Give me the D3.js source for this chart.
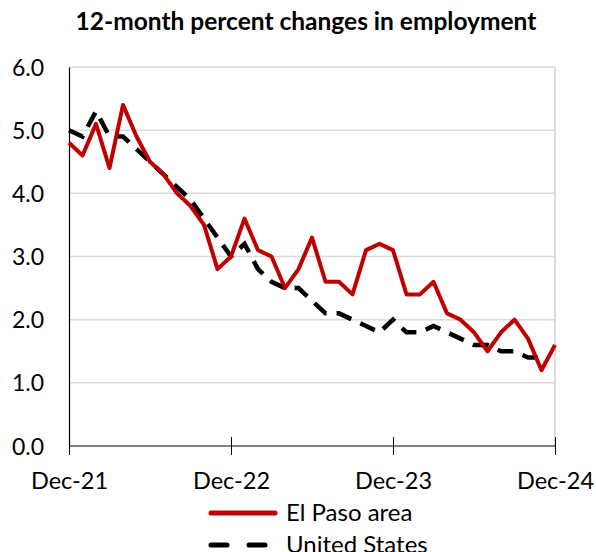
<!DOCTYPE html>
<html>
<head>
<meta charset="utf-8">
<script src="https://cdn.jsdelivr.net/npm/d3@7"></script>
<style>
  body { margin: 0; background: #fff; }
  text { font-family: Lato, "Liberation Sans", sans-serif; fill: #000; }
</style>
</head>
<body>
<svg id="chart" width="596" height="552"></svg>
<script>
// monthly, Dec-21 .. Dec-24
var elPaso = [4.8, 4.6, 5.1, 4.4, 5.4, 4.9, 4.5, 4.3, 4.0, 3.8, 3.5, 2.8,
              3.0, 3.6, 3.1, 3.0, 2.5, 2.8, 3.3, 2.6, 2.6, 2.4, 3.1, 3.2,
              3.1, 2.4, 2.4, 2.6, 2.1, 2.0, 1.8, 1.5, 1.8, 2.0, 1.7, 1.2,
              1.6];
// US series ends Nov-24
var unitedStates = [5.0, 4.9, 5.3, 4.9, 4.9, 4.7, 4.5, 4.3, 4.1, 3.9, 3.6, 3.3,
                    3.0, 3.2, 2.8, 2.6, 2.5, 2.5, 2.3, 2.1, 2.1, 2.0, 1.9, 1.8,
                    2.0, 1.8, 1.8, 1.9, 1.8, 1.7, 1.6, 1.6, 1.5, 1.5, 1.4, 1.4];
var xTickLabels = ["Dec-21", "Dec-22", "Dec-23", "Dec-24"];
var yTicks = [0, 1, 2, 3, 4, 5, 6];

var svg = d3.select("#chart");
var mLeft = 69, mRight = 555, mTop = 67, mBottom = 446;

var x = d3.scaleLinear().domain([0, 36]).range([mLeft, mRight]);
var y = d3.scaleLinear().domain([0, 6]).range([mBottom, mTop]);

// title
svg.append("text")
    .attr("x", 306)
    .attr("y", 30)
    .attr("text-anchor", "middle")
    .attr("font-size", "24.5px")
    .attr("font-weight", "bold")
    .text("12-month percent changes in employment");

// gridlines
svg.append("g")
    .selectAll("line")
    .data(yTicks.filter(function(d) { return d > 0; }))
    .enter()
    .append("line")
    .attr("x1", mLeft)
    .attr("x2", mRight)
    .attr("y1", function(d) { return y(d); })
    .attr("y2", function(d) { return y(d); })
    .attr("stroke", "#d9d9d9")
    .attr("stroke-width", 1.5);

// right border
svg.append("line")
    .attr("x1", mRight).attr("x2", mRight)
    .attr("y1", mTop).attr("y2", mBottom)
    .attr("stroke", "#d0d0d0")
    .attr("stroke-width", 1.5);

// y axis
var yAxis = svg.append("g")
    .attr("transform", "translate(" + mLeft + ",0)")
    .call(d3.axisLeft(y).tickValues(yTicks).tickSize(0).tickPadding(25).tickFormat(d3.format(".1f")));
yAxis.select(".domain").attr("stroke", "#000").attr("stroke-width", 1.2);
yAxis.selectAll("text").attr("font-size", "23px").attr("dy", "0.35em");

// x axis
var xAxis = svg.append("g")
    .attr("transform", "translate(0," + mBottom + ")")
    .call(d3.axisBottom(x).tickValues([0, 12, 24, 36]).tickSize(9).tickPadding(17)
        .tickFormat(function(d, i) { return xTickLabels[i]; }));
xAxis.select(".domain").attr("stroke", "#000").attr("stroke-width", 1.2).attr("d", "M" + mLeft + ",0H" + mRight);
xAxis.selectAll(".tick line").attr("stroke", "#000").attr("y1", -9).attr("y2", 9);
xAxis.selectAll("text").attr("font-size", "23.5px").attr("dy", "0.71em");

var line = d3.line()
    .x(function(d, i) { return x(i); })
    .y(function(d) { return y(d); });

svg.append("path")
    .datum(unitedStates)
    .attr("fill", "none")
    .attr("stroke", "#000")
    .attr("stroke-width", 4.5)
    .attr("stroke-dasharray", "16,10")
    .attr("d", line);

svg.append("path")
    .datum(elPaso)
    .attr("fill", "none")
    .attr("stroke", "#c00000")
    .attr("stroke-width", 4)
    .attr("stroke-linejoin", "round")
    .attr("d", line);

// legend
var legendItems = [
    { name: "El Paso area", color: "#c00000", dash: null },
    { name: "United States", color: "#000", dash: "16,22" }
];
var legend = svg.append("g").attr("transform", "translate(211, 513)");
legend.selectAll("line")
    .data(legendItems)
    .enter()
    .append("line")
    .attr("x1", 0).attr("x2", 64)
    .attr("y1", function(d, i) { return i * 32; })
    .attr("y2", function(d, i) { return i * 32; })
    .attr("stroke", function(d) { return d.color; })
    .attr("stroke-width", 5)
    .attr("stroke-dasharray", function(d) { return d.dash; })
    .attr("stroke-linecap", "round");
legend.selectAll("text")
    .data(legendItems)
    .enter()
    .append("text")
    .attr("x", 75)
    .attr("y", function(d, i) { return i * 32; })
    .attr("dy", "0.35em")
    .attr("font-size", "24px")
    .text(function(d) { return d.name; });
</script>
</body>
</html>
